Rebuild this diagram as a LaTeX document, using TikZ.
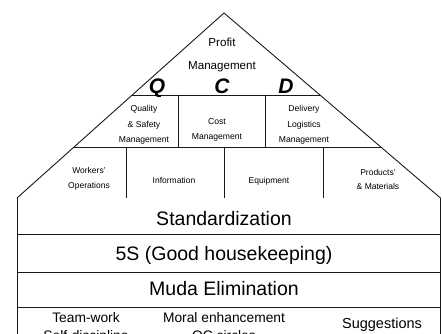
\documentclass[tikz,border=0pt]{standalone}
\usepackage{fontspec}
\setmainfont{Liberation Sans}
\usetikzlibrary{positioning}

\begin{document}
\begin{tikzpicture}[x=1pt,y=-1pt,line width=0.9pt,inner sep=0pt]
 \tikzstyle{roof node}=[align=center,font=\fontsize{8.6}{15.5}\selectfont]
 \tikzstyle{wall node}=[align=center,font=\fontsize{8.5}{14.5}\selectfont]
 \tikzstyle{floor node}=[font=\fontsize{19.5}{20}\selectfont]
 \tikzstyle{base node}=[align=center,font=\fontsize{13.8}{18}\selectfont]
 \tikzset{
 	peak node/.style={align=center,font=\fontsize{11.6}{23}\selectfont},
 	letter node/.style={font=\fontsize{21}{21}\bfseries\itshape\selectfont,anchor=base}
 }
 \useasboundingbox (0,0) rectangle (442,334);
 \clip (0,0) rectangle (442,334);

       % roof outline
       \coordinate (top) at (224,13);
       \coordinate (bl) at (17,198);
       \coordinate (br) at (440.5,198);
       \draw[gray!20!black] (bl) -- (top) -- (br);
       \draw[gray!20!black] (132.3,95) -- (320.2,95);
       \draw[gray!20!black] (74.1,147) -- (381.2,147);
       \draw[gray!20!black] (178,95) -- (178,147);
       \draw[gray!20!black] (265,95) -- (265,147);
       \draw[gray!20!black] (126,147) -- (126,198);
       \draw[gray!20!black] (224,147) -- (224,198);
       \draw[gray!20!black] (323,147) -- (323,198);

       % body with its floors
       \draw[gray!20!black] (bl) -- (17,345) (br) -- (440.5,345);
       \draw[gray!20!black] (17,234) -- (440.5,234);
       \draw[gray!20!black] (17,272) -- (440.5,272);
       \draw[gray!20!black] (17,307) -- (440.5,307);

       \node[peak node] (pm) at (222,55) {Profit\\Management};
       \node[letter node] (q) at (157,94) {Q};
       \node[letter node] (c) at (222,94) {C};
       \node[letter node] (d) at (286,94) {D};

       \node[roof node] (qual) at (144,125) {Quality\\\& Safety\\Management};
       \node[roof node] (cost) at (217,130) {Cost\\Management};
       \node[roof node] (deli) at (304,125) {Delivery\\Logistics\\Management};

       \node[wall node] (work) at (89,179) {Workers'\\Operations};
       \node[wall node] (info) at (174,180) {Information};
       \node[wall node] (equi) at (269,181) {Equipment};
       \node[wall node] (prod) at (378,179.5) {Products'\\\& Materials};

       \node[floor node] (std) at (224,219) {Standardization};
       \node[floor node] (fives) at (224,255) {5S (Good housekeeping)};
       \node[floor node] (muda) at (224,289) {Muda Elimination};

       \node[base node,anchor=north] (team) at (86,312.5) {Team-work\\Self-discipline};
       \node[base node,anchor=north] (moral) at (224,312.5) {Moral enhancement\\QC circles};
       \node[base node,font=\fontsize{14.5}{18}\selectfont] (sugg) at (382,325) {Suggestions};
 \end{tikzpicture}
\end{document}
